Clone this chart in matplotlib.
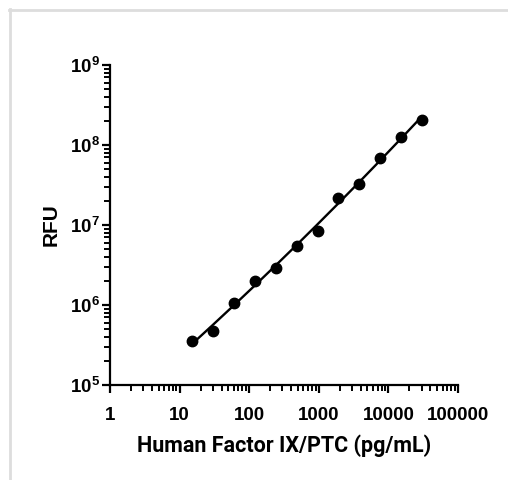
import matplotlib
matplotlib.use("Agg")
import matplotlib.pyplot as plt
import numpy as np
from matplotlib import font_manager
from matplotlib.ticker import LogLocator, FixedLocator, NullFormatter, FuncFormatter

# concentration (pg/mL) and measured RFU
conc = [15, 30, 60, 120, 240, 480, 960, 1900, 3750, 7500, 15000, 30000]
rfu = [3.55e5, 4.7e5, 1.05e6, 2.0e6, 2.9e6, 5.5e6, 8.4e6, 2.2e7, 3.3e7, 6.8e7, 1.27e8, 2.05e8]

x_ticks = [1, 10, 100, 1000, 10000, 100000]
y_ticks = [1e5, 1e6, 1e7, 1e8, 1e9]

names = {f.name for f in font_manager.fontManager.ttflist}
tick_font = "Liberation Sans Narrow" if "Liberation Sans Narrow" in names else "Liberation Sans"

plt.rcParams['mathtext.fontset'] = 'custom'
plt.rcParams['mathtext.rm'] = f'{tick_font}:bold'
plt.rcParams['mathtext.default'] = 'rm'

fig = plt.figure(figsize=(5.08, 4.80), dpi=100)
ax = fig.add_axes([110 / 508, 1 - 385 / 480, 348 / 508, 320 / 480])

# fitted curve (quadratic in log-log space)
lx, ly = np.log10(conc), np.log10(rfu)
coef = np.polyfit(lx, ly, 2)
xs = np.linspace(lx.min(), lx.max(), 200)
ax.plot(10 ** xs, 10 ** np.polyval(coef, xs), color='black', lw=1.7, zorder=2)
ax.plot(conc, rfu, 'o', color='black', ms=7.5, zorder=3)

ax.set_xscale('log')
ax.set_yscale('log')
ax.set_xlim(1, 1e5)
ax.set_ylim(1e5, 1e9)

ax.xaxis.set_major_locator(FixedLocator(x_ticks))
ax.yaxis.set_major_locator(FixedLocator(y_ticks))
ax.xaxis.set_minor_locator(LogLocator(base=10, subs=np.arange(2, 10), numticks=20))
ax.yaxis.set_minor_locator(LogLocator(base=10, subs=np.arange(2, 10), numticks=20))
ax.xaxis.set_minor_formatter(NullFormatter())
ax.yaxis.set_minor_formatter(NullFormatter())
ax.xaxis.set_major_formatter(FuncFormatter(lambda v, p: f"{int(v)}"))
ax.yaxis.set_major_formatter(FuncFormatter(lambda v, p: f"$10^{{{int(round(np.log10(v)))}}}$"))

for s in ['top', 'right']:
    ax.spines[s].set_visible(False)
for s in ['left', 'bottom']:
    ax.spines[s].set_linewidth(1.6)

ax.tick_params(which='major', length=6, width=1.6, labelsize=13.5)
ax.tick_params(axis='x', which='major', pad=10)
ax.tick_params(axis='y', which='major', pad=1)
ax.tick_params(which='minor', length=4, width=1.4)
for lab in ax.get_xticklabels() + ax.get_yticklabels():
    lab.set_fontfamily(tick_font)
    lab.set_fontweight('bold')

ax.set_xlabel('Human Factor IX/PTC (pg/mL)', fontsize=15.5, fontweight='bold',
              family=['Roboto', 'DejaVu Sans'], labelpad=7)
ax.set_ylabel('RFU', fontsize=15, fontweight='bold', family='Liberation Sans', labelpad=7)

# light gray frame at top and left
fig.add_artist(plt.Line2D([9 / 508, 1], [1 - 10 / 480] * 2, color='#dddddd', lw=2))
fig.add_artist(plt.Line2D([10 / 508] * 2, [0, 1 - 9 / 480], color='#dddddd', lw=2))

fig.savefig('out.png', dpi=100)
